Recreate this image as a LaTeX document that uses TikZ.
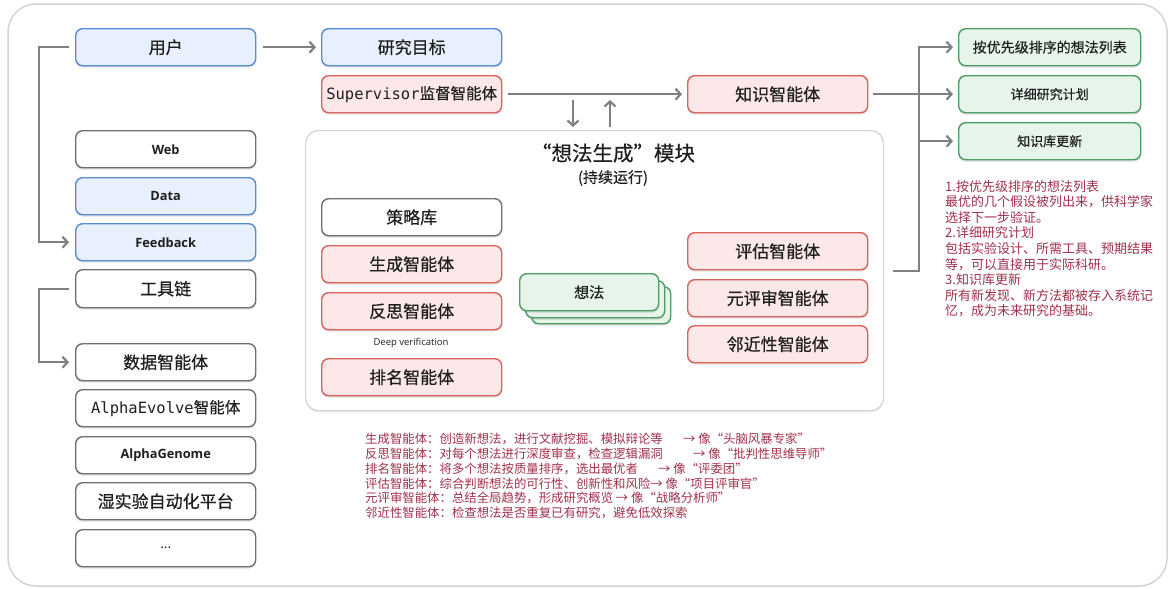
\documentclass[tikz,border=0pt]{standalone}
\usepackage{fontspec}
\setmainfont{Noto Sans CJK SC}
\newfontfamily\medf{Noto Sans CJK SC}[FakeBold=0.5]
\newfontfamily\monof{DejaVu Sans Mono}
\newfontfamily\latf{Open Sans}
\usetikzlibrary{arrows.meta,shadows,calc}
\definecolor{bluefill}{HTML}{E8F0FE}
\definecolor{bluedraw}{HTML}{5A8CD4}
\definecolor{redfill}{HTML}{FCE8E8}
\definecolor{reddraw}{HTML}{D9625C}
\definecolor{greenfill}{HTML}{E6F4EA}
\definecolor{greendraw}{HTML}{4E9E63}
\definecolor{greydraw}{HTML}{707070}
\definecolor{txt}{HTML}{1F1F1F}
\definecolor{anno}{HTML}{A0304A}
\definecolor{arrowgray}{HTML}{808080}
\definecolor{framegray}{HTML}{D4D4D4}
\begin{document}
\begin{tikzpicture}[x=1pt,y=-1pt,
  shd/.style={drop shadow={shadow xshift=0pt,shadow yshift=-2pt,opacity=0.12,fill=black}},
  bx/.style={rectangle, rounded corners=7pt, line width=1.4pt, minimum width=180pt,
    minimum height=37pt, inner sep=0pt, anchor=north west, text=txt,
    font=\medf\fontsize{17}{19}\selectfont, shd},
  wbox/.style={bx, draw=greydraw, fill=white},
  bbox/.style={bx, draw=bluedraw, fill=bluefill},
  rbox/.style={bx, draw=reddraw, fill=redfill},
  gbox/.style={bx, draw=greendraw, fill=greenfill},
  lat/.style={font=\latf\bfseries\fontsize{12.8}{14}\selectfont},
  arr/.style={draw=arrowgray, line width=2.2pt, -{Straight Barb[length=5pt,width=11pt]}},
  bt/.style={anchor=west, inner sep=0pt, text=anno, font=\fontsize{12.4}{14}\selectfont}
]
\useasboundingbox (0,0) rectangle (1170,589);
\draw[framegray, line width=1.5pt, rounded corners=28pt] (8,4) rectangle (1167,586);

% left column
\node[bbox] (user) at (75,28) {用户};
\node[wbox, lat] (web) at (75,130) {Web};
\node[bbox, lat] (data) at (75,177) {Data};
\node[bbox, lat] (fb) at (75,223) {Feedback};
\node[wbox, minimum height=38pt] (tools) at (75,269) {工具链};
\node[wbox] (t1) at (75,343) {数据智能体};
\node[wbox, font=\medf\fontsize{15.5}{18}\selectfont] (t2) at (75,389) {{\monof AlphaEvolve}智能体};
\node[wbox, lat] (t3) at (75,436) {AlphaGenome};
\node[wbox] (t4) at (75,482) {湿实验自动化平台};
\node[wbox, font=\fontsize{13}{15}\selectfont] (t5) at (75,529) {...};

\draw[arr] ([xshift=-6pt]user.west) -- ([xshift=-36pt]user.west) |- ([xshift=-6pt]fb.west);
\draw[arr] ([xshift=-6pt]tools.west) -- ([xshift=-36pt]tools.west) |- ([xshift=-6pt]t1.west);

% top middle
\node[bbox] (goal) at (321,28) {研究目标};
\node[rbox, font=\medf\fontsize{15.5}{18}\selectfont] (sup) at (321,75) {{\monof Supervisor}监督智能体};
\node[rbox] (know) at (687,75) {知识智能体};
\draw[arr] ([xshift=7pt]user.east) -- ([xshift=-5pt]goal.west);
\draw[arr] ([xshift=6pt]sup.east) -- ([xshift=-5pt]know.west);

% module
\node[draw=framegray, fill=white, line width=1.2pt, rounded corners=13pt, anchor=north west,
  minimum width=578pt, minimum height=280pt, inner sep=0pt,
  drop shadow={shadow xshift=0pt,shadow yshift=-2pt,opacity=0.08,fill=black}] (module) at (305,130) {};
\coordinate (dn1) at (573,100);
\coordinate (dn2) at (573,127);
\coordinate (up1) at (610,127);
\coordinate (up2) at (610,100);
\draw[arr] (dn1) -- (dn2);
\draw[arr] (up1) -- (up2);
\node[text=txt, font=\medf\fontsize{20.5}{22}\selectfont] (title) at (613,153) {“想法生成”模块};
\node[text=txt, font=\medf\fontsize{15}{17}\selectfont] (sub) at (613,178) {(持续运行)};

\node[wbox] (strat) at (321,198) {策略库};
\node[rbox] (gen) at (321,245) {生成智能体};
\node[rbox] (refl) at (321,292) {反思智能体};
\node[text=txt, font=\latf\fontsize{9.5}{11}\selectfont] (deep) at (411,343) {Deep verification};
\node[rbox] (rank) at (321,358) {排名智能体};

\node[gbox, minimum width=139pt] (idea3) at (531,286) {};
\node[gbox, minimum width=139pt] (idea2) at (525,280) {};
\node[gbox, minimum width=139pt, font=\medf\fontsize{15}{17}\selectfont] (idea) at (519,273) {想法};

\node[rbox] (eval) at (687,232) {评估智能体};
\node[rbox] (meta) at (687,279) {元评审智能体};
\node[rbox] (prox) at (687,325) {邻近性智能体};

% right column
\node[gbox, minimum width=182pt, font=\medf\fontsize{14}{16}\selectfont] (r1) at (958,28) {按优先级排序的想法列表};
\node[gbox, minimum width=182pt, font=\medf\fontsize{13}{15}\selectfont] (r2) at (958,75) {详细研究计划};
\node[gbox, minimum width=182pt, font=\medf\fontsize{13}{15}\selectfont] (r3) at (958,122) {知识库更新};

\draw[arr] ([xshift=9pt]module.east) -| ([xshift=-39pt]r1.west) -- ([xshift=-5pt]r1.west);
\draw[arr] ([xshift=5pt]know.east) -- ([xshift=-5pt]r2.west);
\draw[arr] ([xshift=-39pt]r3.west) -- ([xshift=-5pt]r3.west);

\node[anchor=north west, align=left, inner sep=0pt, text=anno, font=\fontsize{13}{15.6}\selectfont] (notes) at (945,180)
{1.按优先级排序的想法列表\\
最优的几个假设被列出来，供科学家\\
选择下一步验证。\\
2.详细研究计划\\
包括实验设计、所需工具、预期结果\\
等，可以直接用于实际科研。\\
3.知识库更新\\
所有新发现、新方法都被存入系统记\\
忆，成为未来研究的基础。};

% bottom legend
\node[bt] (b1) at (365,439) {生成智能体：创造新想法，进行文献挖掘、模拟辩论等};
\node[bt] (b1a) at (683,439) {→ 像“头脑风暴专家”};
\node[bt] (b2) at (365,453.8) {反思智能体：对每个想法进行深度审查，检查逻辑漏洞};
\node[bt] (b2a) at (693,453.8) {→ 像“批判性思维导师”};
\node[bt] (b3) at (365,468.6) {排名智能体：将多个想法按质量排序，选出最优者};
\node[bt] (b3a) at (658,468.6) {→ 像“评委团”};
\node[bt] (b4) at (365,483.4) {评估智能体：综合判断想法的可行性、创新性和风险→ 像“项目评审官”};
\node[bt] (b5) at (365,498.2) {元评审智能体：总结全局趋势，形成研究概览 → 像“战略分析师”};
\node[bt] (b6) at (365,513) {邻近性智能体：检查想法是否重复已有研究，避免低效探索};
\end{tikzpicture}
\end{document}
